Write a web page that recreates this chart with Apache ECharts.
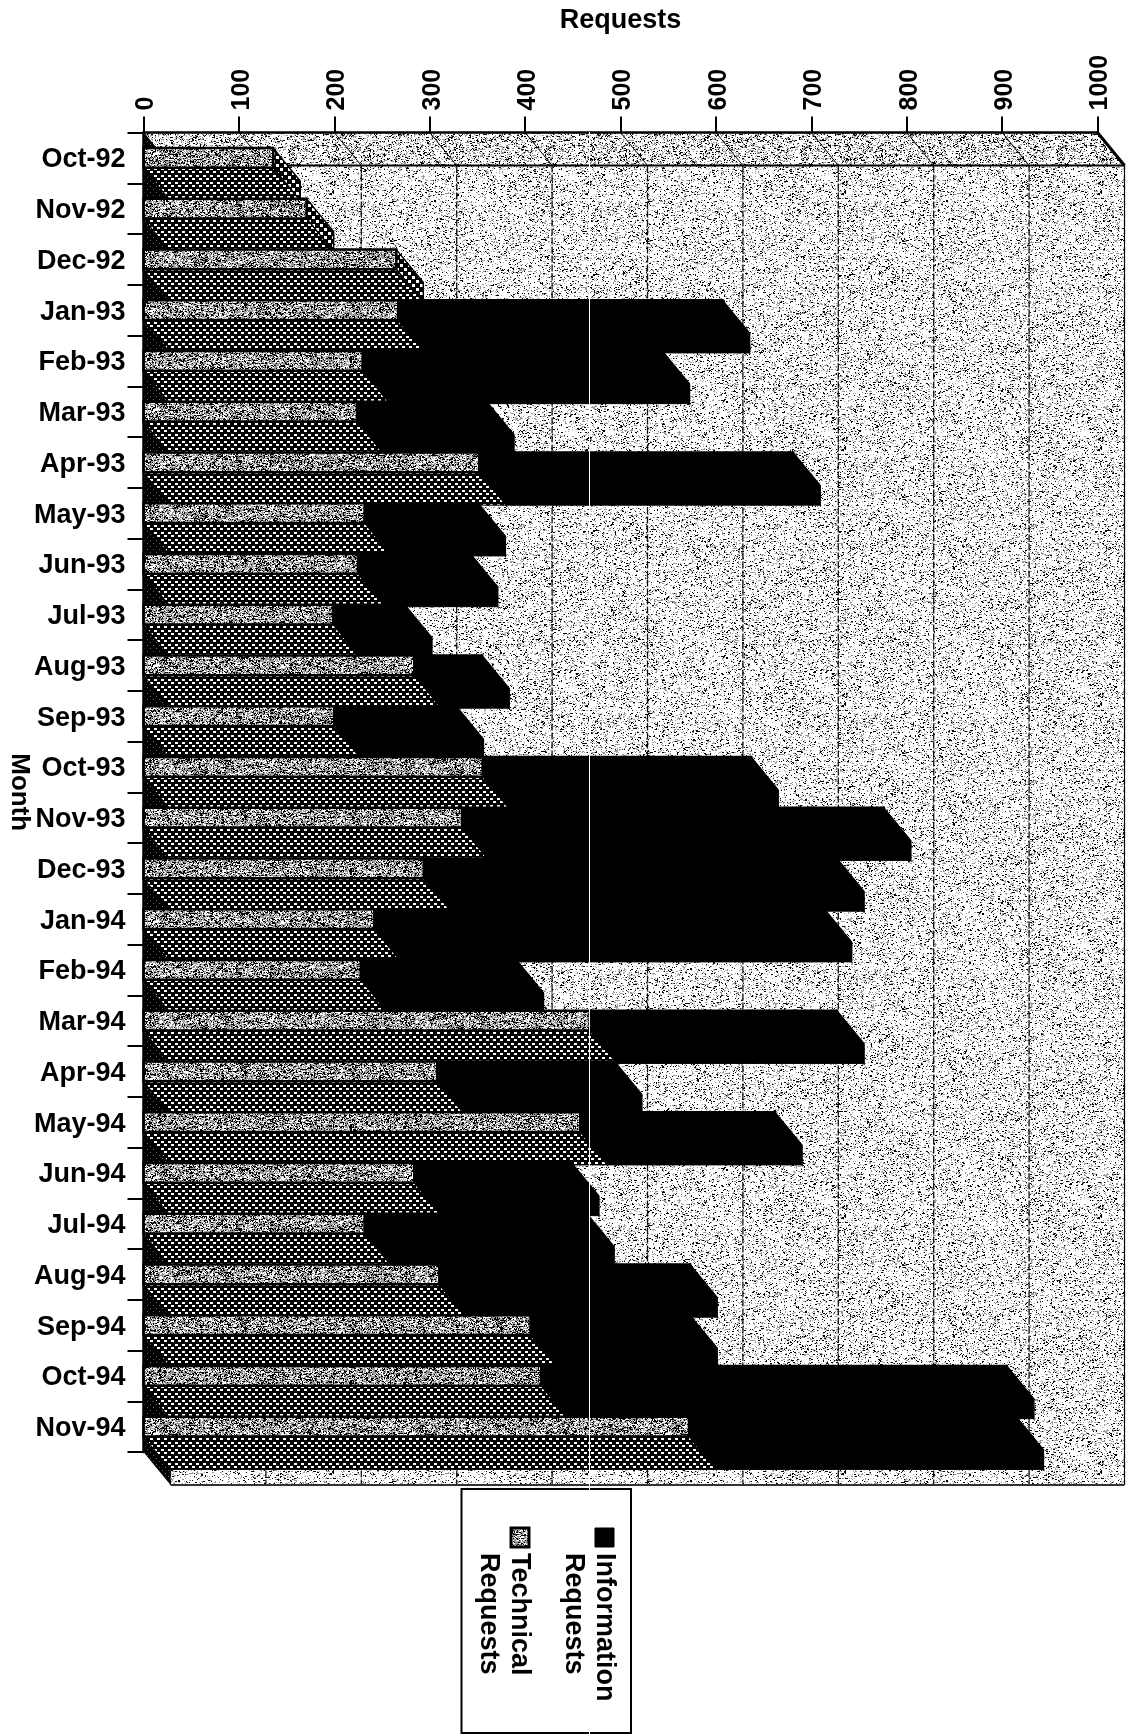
<!DOCTYPE html>
<html><head><meta charset="utf-8">
<style>html,body{margin:0;padding:0;background:#fff}#c{width:1127px;height:1735px}</style>
<script src="https://cdn.jsdelivr.net/npm/echarts@6/dist/echarts.min.js"></script>
</head><body><div id="c"></div>
<script>
const months = ['Oct-92','Nov-92','Dec-92','Jan-93','Feb-93','Mar-93','Apr-93','May-93','Jun-93','Jul-93','Aug-93','Sep-93','Oct-93','Nov-93','Dec-93','Jan-94','Feb-94','Mar-94','Apr-94','May-94','Jun-94','Jul-94','Aug-94','Sep-94','Oct-94','Nov-94'];
const technicalRequests = [136,171,265,267,230,224,352,232,225,199,284,200,356,334,294,242,228,468,308,458,284,232,310,406,417,572];
const informationRequests = [0,0,0,340,314,136,329,119,118,75,71,128,281,442,433,472,163,259,186,204,165,233,263,167,488,343];
const valueTicks = [0,100,200,300,400,500,600,700,800,900,1000];
const seriesNames = ['Information Requests','Technical Requests'];
const legendLabels = ['Information\nRequests','Technical\nRequests'];

// 3D oblique offset of the original chart
const DX = 27, DY = 33;
const FONT = '"Liberation Sans", Arial, sans-serif';

// Deterministic print-grain textures (appearance only, no data)
function grain(seedStart) { let s = seedStart; return () => { s = (s * 1664525 + 1013904223) >>> 0; return ((s >>> 8) & 0xffff) / 65536; }; }
function texture(size, paint) { const c = document.createElement('canvas'); c.width = c.height = size; paint(c.getContext('2d'), size); return { image: c, repeat: 'repeat' }; }
function speckle(seed, black, gray, wide) {
  return texture(256, (g, n) => {
    const r = grain(seed); g.fillStyle = '#fff'; g.fillRect(0, 0, n, n);
    for (let y = 0; y < n; y++) for (let x = 0; x < n; x++) {
      const v = r();
      if (v < black) { g.fillStyle = '#000'; g.fillRect(x, y, r() < wide ? 2 : 1, 1); }
      else if (v < black + gray) { g.fillStyle = '#999'; g.fillRect(x, y, r() < wide ? 2 : 1, 1); }
    }
  });
}
function lattice(bg, dot, p, w, h) {
  return texture(p, (g) => {
    const half = Math.floor(p / 2);
    g.fillStyle = bg; g.fillRect(0, 0, p, p); g.fillStyle = dot;
    g.fillRect(0, 0, w, h); g.fillRect(half, half, w, h);
  });
}
const wallFill = speckle(11, .075, .11, .25);
const floorFill = speckle(23, .12, .17, .25);
const frontFill = speckle(37, .26, .34, .4);
const depthFill = lattice('#000', '#fff', 7, 3, 2);
const capFill = lattice('#000', '#fff', 8, 3, 3);
const sideFill = lattice('#000', '#666', 6, 1, 1);

const poly = (points, fill, z2, stroke, lineWidth) => ({ type: 'polygon', shape: { points }, z2, silent: true,
  style: { fill, stroke: stroke || null, lineWidth: lineWidth || 0 } });

function renderWalls(params, api) {
  const c = params.coordSys, l = c.x, t = c.y, r = c.x + c.width, b = c.y + c.height;
  return { type: 'group', children: [
    poly([[l + DX, t + DY], [r + DX, t + DY], [r + DX, b + DY], [l + DX, b + DY]], wallFill, 1),
    poly([[l, t], [r, t], [r + DX, t + DY], [l + DX, t + DY]], floorFill, 2),
    poly([[l, t], [l + DX, t + DY], [l + DX, b + DY], [l, b]], sideFill, 3),
    { type: 'line', z2: 5, silent: true, shape: { x1: l + DX, y1: t + DY, x2: r + DX, y2: t + DY }, style: { stroke: '#000', lineWidth: 2 } },
    { type: 'line', z2: 5, silent: true, shape: { x1: r, y1: t, x2: r + DX, y2: t + DY }, style: { stroke: '#000', lineWidth: 3 } },
    { type: 'line', z2: 5, silent: true, shape: { x1: r + DX, y1: t + DY, x2: r + DX, y2: b + DY }, style: { stroke: '#000', lineWidth: 1 } },
    { type: 'line', z2: 5, silent: true, shape: { x1: l + DX, y1: b + DY, x2: r + DX, y2: b + DY }, style: { stroke: '#333', lineWidth: 2 } }
  ] };
}
function renderGrid(params, api) {
  const c = params.coordSys, x = api.coord([api.value(0), 0])[0], t = c.y, b = c.y + c.height;
  return { type: 'group', children: [
    { type: 'line', z2: 4, silent: true, shape: { x1: x, y1: t, x2: x + DX, y2: t + DY }, style: { stroke: '#000', lineWidth: 1 } },
    { type: 'line', z2: 4, silent: true, shape: { x1: x + DX, y1: t + DY, x2: x + DX, y2: b + DY }, style: { stroke: '#111', lineWidth: 1.3, lineDash: [7, 2] } }
  ] };
}
function renderBar(kind) {
  return (params, api) => {
    const i = api.value(2), a = api.coord([api.value(0), i]), x1 = api.coord([api.value(1), i])[0];
    const x0 = a[0], band = api.size([0, 1])[1], h = band * 0.385, y0 = a[1] - h / 2, y1 = a[1] + h / 2;
    const base = 100 + i * 10, tech = kind === 'tech';
    return { type: 'group', children: [
      poly([[x0, y1], [x1, y1], [x1 + DX, y1 + DY], [x0 + DX, y1 + DY]], tech ? depthFill : '#000', base + (tech ? 0 : 3), '#000', 1),
      poly([[x1, y0], [x1 + DX, y0 + DY], [x1 + DX, y1 + DY], [x1, y1]], tech ? capFill : '#000', base + (tech ? 1 : 4), '#000', 1.5),
      { type: 'rect', z2: base + (tech ? 2 : 5), silent: true, shape: { x: x0, y: y0, width: x1 - x0, height: h },
        style: { fill: tech ? frontFill : '#000', stroke: '#000', lineWidth: 2.5 } }
    ] };
  };
}

const legendGraphic = [
  { type: 'rect', z: 90, silent: true, shape: { x: 461.5, y: 1489, width: 169.5, height: 244 }, style: { fill: '#fff', stroke: '#000', lineWidth: 2 } },
  { type: 'rect', z: 91, silent: true, shape: { x: 595, y: 1528, width: 19, height: 19 }, style: { fill: '#000', stroke: '#000', lineWidth: 1 } },
  { type: 'rect', z: 91, silent: true, shape: { x: 511, y: 1528, width: 18, height: 19 }, style: { fill: frontFill, stroke: '#000', lineWidth: 3 } },
  { type: 'text', z: 91, silent: true, x: 589, y: 1553, rotation: -Math.PI / 2, style: { text: legendLabels[0], font: 'bold 27px ' + FONT, fill: '#000', align: 'left', verticalAlign: 'middle', lineHeight: 31 } },
  { type: 'text', z: 91, silent: true, x: 504, y: 1553, rotation: -Math.PI / 2, style: { text: legendLabels[1], font: 'bold 27px ' + FONT, fill: '#000', align: 'left', verticalAlign: 'middle', lineHeight: 31 } },
  { type: 'rect', z: 95, silent: true, shape: { x: 589, y: 132, width: 1, height: 1603 }, style: { fill: '#fff' } }
];

const tickText = { color: '#000', fontFamily: FONT, fontWeight: 'bold' };
const chart = echarts.init(document.getElementById('c'), null, { renderer: 'canvas' });
chart.setOption({
  animation: false, backgroundColor: '#fff', tooltip: { show: false },
  textStyle: { fontFamily: FONT },
  grid: { left: 143.5, top: 132.5, width: 954, height: 1319.5, containLabel: false, outerBoundsMode: 'none' },
  xAxis: { type: 'value', position: 'top', min: 0, max: 1000, interval: 100, z: 5,
    name: 'Requests', nameLocation: 'middle', nameGap: 98, nameMoveOverlap: false, nameTextStyle: { fontFamily: FONT, fontWeight: 'bold', fontSize: 27, color: '#000' },
    axisLine: { show: true, lineStyle: { color: '#000', width: 2.5 } },
    axisTick: { show: true, length: 16, lineStyle: { color: '#000', width: 2 } },
    splitLine: { show: false },
    axisLabel: { rotate: -90, margin: 22, hideOverlap: false, showMinLabel: true, showMaxLabel: true, ...tickText, fontSize: 25,
      formatter: v => '{t|' + v + '}', rich: { t: { ...tickText, fontSize: 25, padding: [6, 0, 0, 0] } } } },
  yAxis: { type: 'category', inverse: true, data: months, z: 5,
    name: 'Month', nameLocation: 'middle', nameRotate: -90, nameGap: 111, nameMoveOverlap: false, nameTextStyle: { fontFamily: FONT, fontWeight: 'bold', fontSize: 26, color: '#000' },
    axisLine: { show: true, lineStyle: { color: '#000', width: 2.5 } },
    axisTick: { show: true, length: 16, alignWithLabel: false, lineStyle: { color: '#000', width: 2 } },
    axisLabel: { interval: 0, margin: 18, ...tickText, fontSize: 27,
      formatter: v => '{t|' + v + '}', rich: { t: { ...tickText, fontSize: 27, padding: [4, 0, 0, 0] } } } },
  graphic: { elements: legendGraphic },
  series: [
    { type: 'custom', name: 'walls', silent: true, coordinateSystem: 'cartesian2d', renderItem: renderWalls, data: [[0, 0]], encode: { x: 0, y: 1 } },
    { type: 'custom', name: 'gridlines', silent: true, coordinateSystem: 'cartesian2d', renderItem: renderGrid, data: valueTicks.map(v => [v, 0]), encode: { x: 0, y: 1 } },
    { type: 'custom', name: seriesNames[1], silent: true, coordinateSystem: 'cartesian2d', renderItem: renderBar('tech'),
      data: technicalRequests.map((v, i) => [0, v, i]), encode: { x: [0, 1], y: 2 } },
    { type: 'custom', name: seriesNames[0], silent: true, coordinateSystem: 'cartesian2d', renderItem: renderBar('info'),
      data: informationRequests.map((v, i) => [technicalRequests[i], technicalRequests[i] + v, i]).filter(d => d[1] > d[0]), encode: { x: [0, 1], y: 2 } }
  ]
});
</script></body></html>
